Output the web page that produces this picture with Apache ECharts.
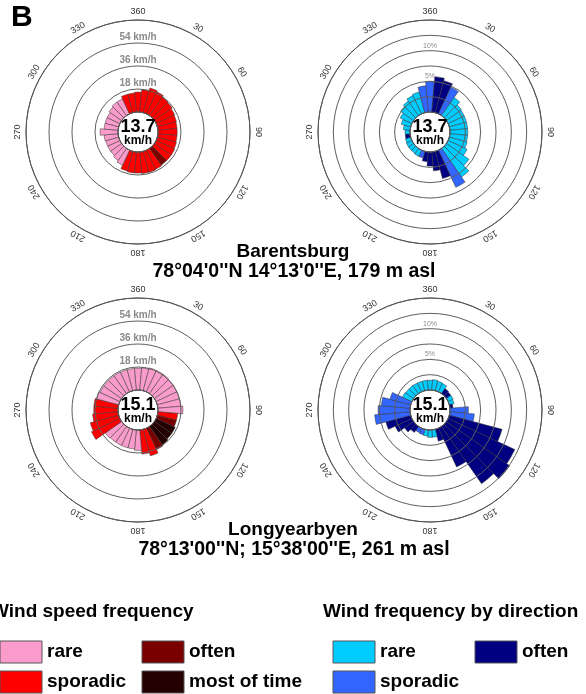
<!DOCTYPE html>
<html><head><meta charset="utf-8">
<script src="https://cdn.jsdelivr.net/npm/echarts@6/dist/echarts.min.js"></script>
<style>html,body{margin:0;padding:0;background:#fff}#c{width:586px;height:694px}</style>
</head><body><div id="c"></div>
<script>
// ---------- DATA ----------
const directions = ['0','10','20','30','40','50','60','70','80','90','100','110','120','130','140','150','160','170',
                    '180','190','200','210','220','230','240','250','260','270','280','290','300','310','320','330','340','350'];
const angleTickDirs = [0,30,60,90,120,150,180,210,240,270,300,330];
const angleTickLabels = ['360','30','60','90','120','150','180','210','240','270','300','330'];

const speedRingValues = [18, 36, 54];
const speedRingLabels = ['18 km/h','36 km/h','54 km/h'];
const freqRingValues = [5, 10];
const freqRingLabels = ['5%','10%'];

const speedClassNames = ['rare','sporadic','often','most of time'];
const dirClassNames = ['rare','sporadic','often'];

// Barentsburg - mean wind speed by direction (km/h) and frequency class
const barSpeed = [15.6,17.5,20,19,17.6,17,16,15.5,15,15,15,15.5,16,16,16,16.5,17,17,
                  16.5,16.5,16,13,11.5,10.5,10.5,10.5,11,14,11,11,11,12,13,13,15,15];
const barSpeedClass = [1,1,1,1,1,1,1,1,1,1,1,1,1,1,2,1,1,1,
                       1,1,1,0,0,0,0,0,0,0,0,0,0,0,0,0,1,1];
// Barentsburg - wind frequency by direction (%) and class
const barFreq = [5.0,5.8,5.4,4.8,3.6,3.0,2.9,2.9,2.9,2.9,2.9,3.0,3.4,4.5,5.7,6.7,4.6,3.1,
                 2.3,1.6,1.1,1.1,1.0,1.0,1.0,0.9,0.8,0.8,1.1,1.6,2.1,2.6,2.9,3.3,3.5,4.3];
const barFreqClass = [1,2,2,1,0,0,0,0,0,0,0,0,0,0,0,1,2,2,
                      2,2,1,0,0,0,0,0,2,0,0,0,0,0,0,0,0,1];
const barMean = 13.7;

// Longyearbyen
const lyrSpeed = [17,17.5,18.5,18.5,18.5,18,18,18,18,19.5,15.5,15.5,16.5,16.5,17.5,18.5,21.5,19,
                  16,15,15,15,15,15.5,24.5,23,20,19,19,18,17,17,17,17,17,17];
const lyrSpeedClass = [0,0,0,0,0,0,0,0,0,0,1,2,3,3,3,2,1,1,
                       0,0,0,0,0,0,1,1,1,1,1,0,0,0,0,0,0,0];
const lyrFreq = [1.6,1.7,1.6,1.5,1.0,0.9,0.9,0.8,0.5,3.0,4.0,8.9,12.0,12.6,11.4,7.0,2.0,1.2,
                 1.2,1.0,0.9,0.8,1.2,1.8,3.0,4.2,5.8,5.2,4.7,3.5,1.7,1.6,1.6,1.6,1.6,1.6];
const lyrFreqClass = [0,0,0,0,2,2,0,0,2,1,1,2,2,2,2,2,2,0,
                      0,0,1,1,2,2,2,2,1,1,1,1,0,0,0,0,0,0];
const lyrMean = 15.1;

const stationNames = ['Barentsburg','Longyearbyen'];
const stationCoords = ["78°04'0''N 14°13'0''E, 179 m asl", "78°13'00''N; 15°38'00''E, 261 m asl"];
const legendTitles = ['Wind speed frequency','Wind frequency by direction'];

// ---------- STYLE ----------
const speedColors = ['#F99CCB','#FF0000','#7A0000','#250000'];
const dirColors = ['#00CCFF','#3366FF','#000080'];
const FONT = 'Liberation Sans, Arial, sans-serif';

const centers = [[138,132],[430,132],[138,410],[430,410]];
const isSpeed = [true,false,true,false];
const panels = [
  {values: barSpeed, classes: barSpeedClass, palette: speedColors, mean: barMean},
  {values: barFreq, classes: barFreqClass, palette: dirColors, mean: barMean},
  {values: lyrSpeed, classes: lyrSpeedClass, palette: speedColors, mean: lyrMean},
  {values: lyrFreq, classes: lyrFreqClass, palette: dirColors, mean: lyrMean}
];

const polar = centers.map(c => ({center: c, radius: [20, 112]}));
const angleAxis = centers.map((c, i) => ({
  polarIndex: i, type: 'category', data: directions, startAngle: 95, clockwise: true,
  boundaryGap: true,
  axisLine: {show: true, lineStyle: {color: '#555', width: 1}},
  axisTick: {show: false}, axisLabel: {show: false}, splitLine: {show: false}, z: 6
}));
const radiusAxis = centers.map((c, i) => ({
  polarIndex: i, type: 'value', min: 0,
  max: isSpeed[i] ? 72 : 15, interval: isSpeed[i] ? 18 : 2.5,
  axisLine: {show: false}, axisTick: {show: false}, axisLabel: {show: false},
  splitLine: {show: true, lineStyle: {color: '#5e5e5e', width: 1}}, z: 5
}));

const series = [];
panels.forEach((p, i) => {
  const rMax = isSpeed[i] ? 72 : 15;
  series.push({
    type: 'bar', coordinateSystem: 'polar', polarIndex: i,
    barCategoryGap: '0%', barGap: '0%', silent: true, z: 2,
    itemStyle: {borderColor: '#333', borderWidth: 0.5},
    data: p.values.map((v, k) => ({value: v, itemStyle: {color: p.palette[p.classes[k]]}}))
  });
  // angle tick labels
  series.push({
    type: 'custom', coordinateSystem: 'polar', polarIndex: i, silent: true, z: 10,
    data: angleTickDirs.map(d => [rMax, directions.indexOf(String(d))]),
    renderItem(params, api) {
      const pt = api.coord([api.value(0), api.value(1)]);
      const cs = params.coordSys;
      const dx = pt[0] - cs.cx, dy = pt[1] - cs.cy, len = Math.hypot(dx, dy) || 1;
      const deg = angleTickDirs[params.dataIndex];
      return {type: 'text', x: pt[0] + dx / len * 8, y: pt[1] + dy / len * 8,
        rotation: -deg * Math.PI / 180,
        style: {text: angleTickLabels[params.dataIndex], align: 'center', verticalAlign: 'middle',
          fontSize: 9, fill: '#333', fontFamily: FONT}};
    }
  });
  // ring labels
  const ringVals = isSpeed[i] ? speedRingValues : freqRingValues;
  const ringLabs = isSpeed[i] ? speedRingLabels : freqRingLabels;
  series.push({
    type: 'custom', coordinateSystem: 'polar', polarIndex: i, silent: true, z: 11,
    data: ringVals.map(v => [v, 0]),
    renderItem(params, api) {
      const pt = api.coord([api.value(0), api.value(1)]);
      return {type: 'text', x: pt[0], y: pt[1] - (isSpeed[i] ? 6 : 5),
        style: {text: ringLabs[params.dataIndex], align: 'center', verticalAlign: 'middle',
          fontSize: isSpeed[i] ? 10 : 7, fontWeight: isSpeed[i] ? 'bold' : 'normal',
          fill: '#8a8a8a', fontFamily: FONT}};
    }
  });
  // centre mean-speed text
  series.push({
    type: 'custom', coordinateSystem: 'polar', polarIndex: i, silent: true, z: 12,
    data: [[0, 0]],
    renderItem(params, api) {
      const cs = params.coordSys;
      return {type: 'group', children: [
        {type: 'text', x: cs.cx, y: cs.cy - 5, style: {text: p.mean.toFixed(1), align: 'center',
          verticalAlign: 'middle', fontSize: 18, fontWeight: 'bold', fill: '#000', fontFamily: FONT}},
        {type: 'text', x: cs.cx, y: cs.cy + 9, style: {text: 'km/h', align: 'center',
          verticalAlign: 'middle', fontSize: 12, fontWeight: 'bold', fill: '#000', fontFamily: FONT}}
      ]};
    }
  });
});

// ---------- TEXT & LEGEND ----------
const graphic = [];
graphic.push({type: 'text', left: 11, top: 3, style: {text: 'B', fontSize: 30, fontWeight: 'bold', fill: '#000', fontFamily: FONT}});
const titleY = [[252, 272], [530, 550]];
stationNames.forEach((n, i) => {
  graphic.push({type: 'text', x: 293, y: titleY[i][0], style: {text: n, align: 'center', verticalAlign: 'middle',
    fontSize: 19, fontWeight: 'bold', fill: '#000', fontFamily: FONT}});
  graphic.push({type: 'text', x: 294, y: titleY[i][1], style: {text: stationCoords[i], align: 'center', verticalAlign: 'middle',
    fontSize: 19.5, fontWeight: 'bold', fill: '#000', fontFamily: FONT}});
});
const legendBlocks = [
  {title: legendTitles[0], tx: -9, names: speedClassNames, colors: speedColors, cols: [0, 142]},
  {title: legendTitles[1], tx: 323, names: dirClassNames, colors: dirColors, cols: [333, 475]}
];
const rowsY = [641, 671];
legendBlocks.forEach(b => {
  graphic.push({type: 'text', x: b.tx, y: 612, style: {text: b.title, verticalAlign: 'middle',
    fontSize: 19, fontWeight: 'bold', fill: '#000', fontFamily: FONT}});
  b.names.forEach((n, k) => {
    // column-major order: rare, sporadic in the first column; often, most of time in the second
    const col = Math.floor(k / 2), row = k % 2;
    const x = b.cols[col], y = rowsY[row];
    graphic.push({type: 'rect', shape: {x: x, y: y, width: 42, height: 22},
      style: {fill: b.colors[k], stroke: '#555', lineWidth: 1}});
    graphic.push({type: 'text', x: x + 47, y: y + 11, style: {text: n, verticalAlign: 'middle',
      fontSize: 19, fontWeight: 'bold', fill: '#000', fontFamily: FONT}});
  });
});

const chart = echarts.init(document.getElementById('c'));
chart.setOption({
  animation: false,
  backgroundColor: '#fff',
  polar, angleAxis, radiusAxis, series, graphic
});
</script>
</body></html>
